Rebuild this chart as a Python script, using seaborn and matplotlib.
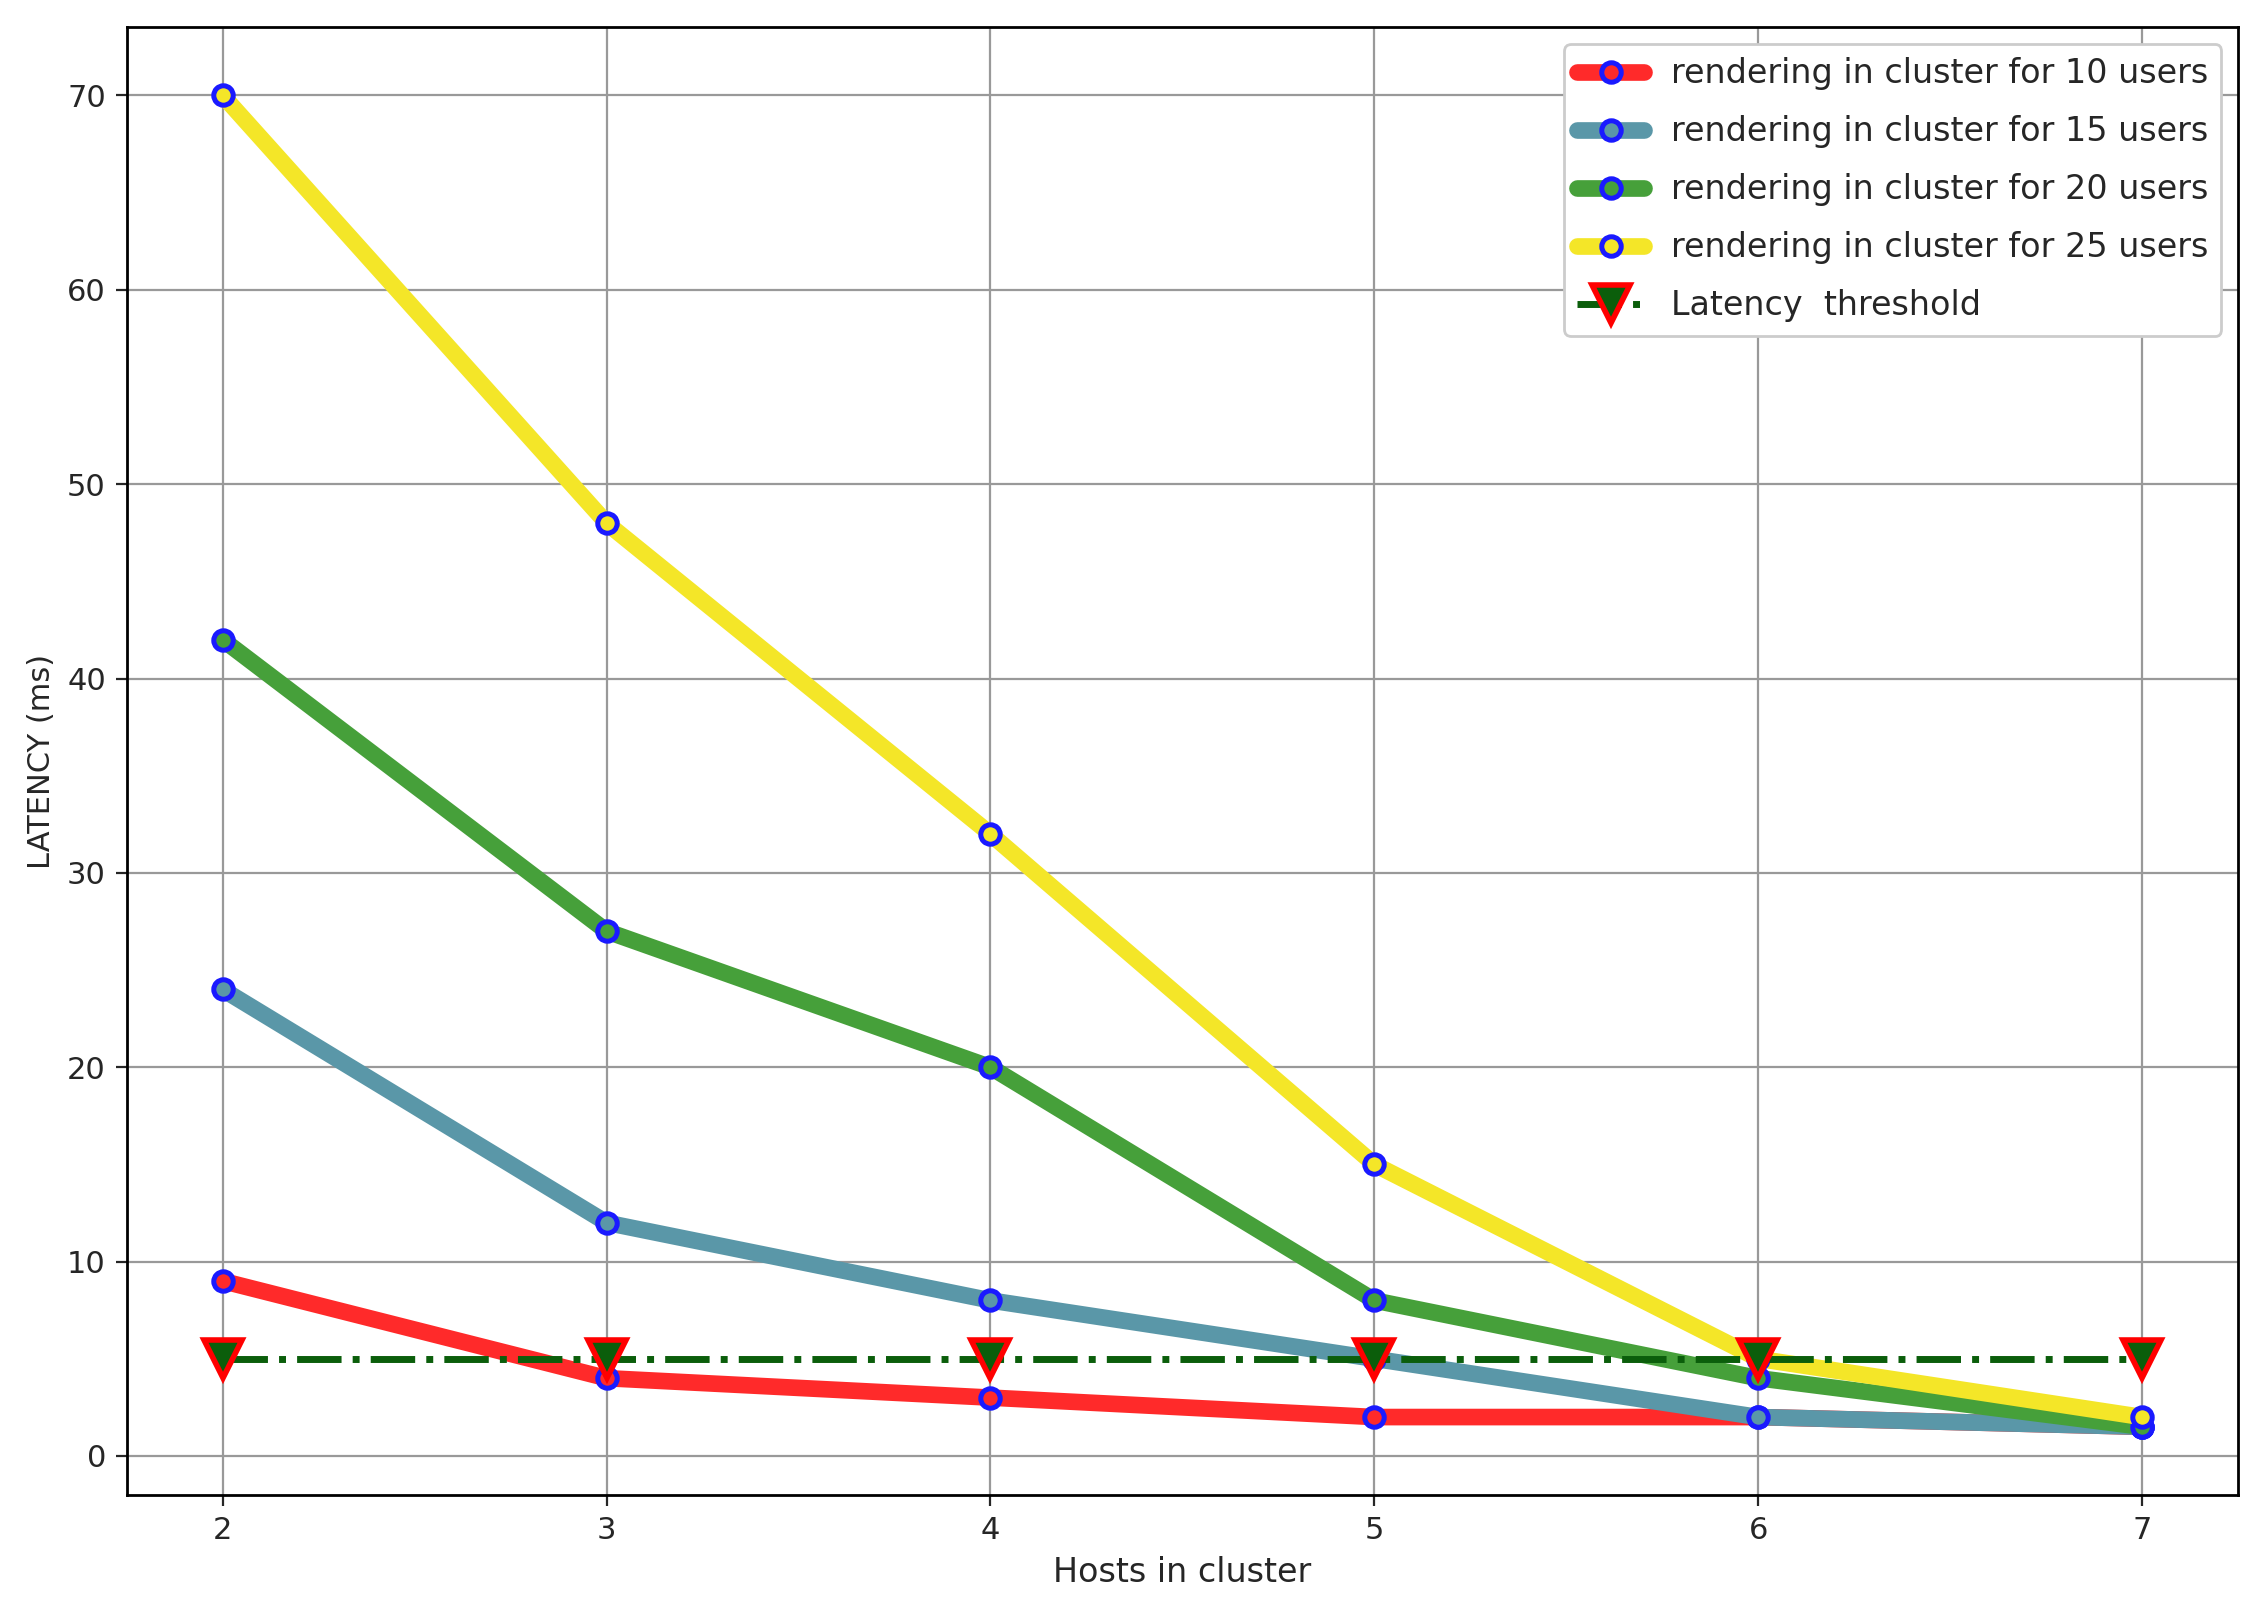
import matplotlib
matplotlib.use("Agg")
import matplotlib.pyplot as plt
import seaborn as sns
import pandas as pd

hosts = [2, 3, 4, 5, 6, 7]
users_10 = [9, 4, 3, 2, 2, 1.5]
users_15 = [24, 12, 8, 5, 2, 1.5]
users_20 = [42, 27, 20, 8, 4, 1.5]
users_25 = [70, 48, 32, 15, 5, 2]
threshold = [5, 5, 5, 5, 5, 5]

series = [
    ("rendering in cluster for 10 users", users_10, "#ff2a2a"),
    ("rendering in cluster for 15 users", users_15, "#5a97a8"),
    ("rendering in cluster for 20 users", users_20, "#46a03a"),
    ("rendering in cluster for 25 users", users_25, "#f4e628"),
]

sns.set_style("whitegrid")
fig = plt.figure(figsize=(11.315, 8.08), dpi=200)
ax = fig.add_axes([0.056, 0.075, 0.933, 0.908])

for label, vals, col in series:
    df = pd.DataFrame({"hosts": hosts, "latency": vals})
    sns.lineplot(data=df, x="hosts", y="latency", ax=ax, color=col, lw=6,
                 marker="o", markersize=7, markerfacecolor=col,
                 markeredgecolor="#1a1aff", markeredgewidth=1.8, label=label)

df_t = pd.DataFrame({"hosts": hosts, "latency": threshold})
sns.lineplot(data=df_t, x="hosts", y="latency", ax=ax, color="#0b5e0b", lw=2.5,
             linestyle="-.", marker="v", markersize=14, markerfacecolor="#0b5e0b",
             markeredgecolor="red", markeredgewidth=2, label="Latency  threshold")

ax.set_xlabel("Hosts in cluster", fontsize=12)
ax.set_ylabel("LATENCY (ms)", fontsize=11)
ax.set_xlim(1.75, 7.25)
ax.set_ylim(-2, 73.5)
ax.set_yticks(range(0, 71, 10))
ax.set_xticks(hosts)
ax.tick_params(labelsize=11, length=4, left=True, bottom=True)
ax.grid(True, color="#999999", lw=0.8)
for s in ax.spines.values():
    s.set_color("black")
    s.set_linewidth(1)
ax.legend(loc="upper right", fontsize=12, frameon=True, framealpha=1,
          edgecolor="#cccccc", labelspacing=0.75)

fig.savefig("out.png", dpi=200)
